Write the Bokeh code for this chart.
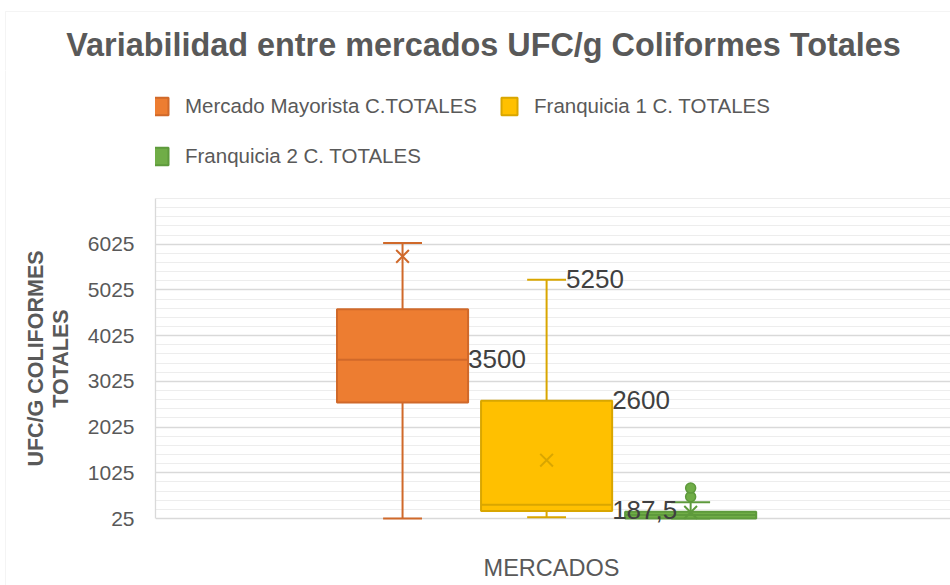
from bokeh.plotting import figure
from bokeh.layouts import row, column
from bokeh.models import (ColumnDataSource, Range1d, FixedTicker, Legend, LegendItem, Label,
                          BoxAnnotation)
from bokeh.embed import file_html
from bokeh.resources import INLINE
from bokeh.core.properties import value
import math

# ---------------- data ----------------
title_text = "Variabilidad entre mercados UFC/g Coliformes Totales"
y_title_lines = ["UFC/G COLIFORMES", "TOTALES"]
x_title = "MERCADOS"
series = ["Mercado Mayorista C.TOTALES", "Franquicia 1 C. TOTALES", "Franquicia 2 C. TOTALES"]
minimum = [25, 55, 25]
q1 = [2560, 187.5, 25]
median = [3500, 325, 100]
q3 = [4600, 2600, 175]
maximum = [6050, 5250, 380]
mean = [5760, 1300, 160]
outlier_series = [2, 2]
outlier_values = [500, 690]
y_ticks = [25, 1025, 2025, 3025, 4025, 5025, 6025]
y_axis_top = 7025
label_series = [0, 1, 1, 1]
label_values = [3500, 5250, 2600, 187.5]
label_anchor = ["box", "cap", "box", "box"]

# ---------------- style / geometry ----------------
fill_colors = ["#ED7D31", "#FFC000", "#70AD47"]
line_colors = ["#D0692A", "#D9A600", "#5E9A3C"]
FONT = "Liberation Sans"
GREY = "#595959"
BORDER = "#d9d9d9"
BOX_W = 0.91
CAP_W = 0.27
TOTAL_W, TOTAL_H = 950, 585
TOP_H = 70                     # title strip
H = TOTAL_H - TOP_H            # plot strip height
LEFT_W = 80                    # y-title strip
MAIN_W = TOTAL_W - LEFT_W
FRAME_LEFT = 155
AXIS_PX = 320                  # pixels between 25 and 7025
BASE_PX = 67                   # pixels from strip bottom to the 25 line
X_PX = 144.05                  # pixels per series slot

px_per_unit = AXIS_PX / (y_axis_top - y_ticks[0])
y_start = y_ticks[0] - BASE_PX / px_per_unit
y_end = y_start + H / px_per_unit
x_start = -1.715
x_end = x_start + (TOTAL_W - FRAME_LEFT) / X_PX

xs = list(range(len(series)))
src = ColumnDataSource(dict(
    x=xs, q1=q1, q3=q3, med=median, lo=minimum, hi=maximum, mean=mean,
    fill=fill_colors, line=line_colors,
    bl=[x - BOX_W / 2 for x in xs], br=[x + BOX_W / 2 for x in xs],
    cl=[x - CAP_W / 2 for x in xs], cr=[x + CAP_W / 2 for x in xs],
))

p = figure(width=MAIN_W, height=H, output_backend="svg", toolbar_location=None,
           x_range=Range1d(x_start, x_end), y_range=Range1d(y_start, y_end),
           x_axis_location=None,
           min_border_left=FRAME_LEFT - LEFT_W, min_border_right=0, min_border_top=0,
           min_border_bottom=0)
p.outline_line_color = None
p.background_fill_color = "white"
p.border_fill_color = "white"

# grid
minor = [v for v in range(y_ticks[0] + 200, y_axis_top + 1, 200) if v not in y_ticks]
p.yaxis.ticker = FixedTicker(ticks=y_ticks, minor_ticks=minor)
p.xgrid.grid_line_color = None
p.ygrid.grid_line_color = "#d9d9d9"
p.ygrid.grid_line_width = 1.3
p.ygrid.minor_grid_line_color = "#ededed"
p.ygrid.minor_grid_line_width = 1

# y axis
ya = p.yaxis[0]
ya.bounds = (y_ticks[0], y_axis_top)
ya.axis_line_color = "#d9d9d9"
ya.axis_line_width = 1.3
ya.major_tick_line_color = None
ya.minor_tick_line_color = None
ya.major_tick_out = 0
ya.major_label_standoff = 17
ya.major_label_text_font = FONT
ya.major_label_text_font_size = "21px"
ya.major_label_text_color = GREY

# whiskers and caps
p.segment(x0="x", y0="q3", x1="x", y1="hi", line_color="line", line_width=2, source=src)
p.segment(x0="x", y0="lo", x1="x", y1="q1", line_color="line", line_width=2, source=src)
p.segment(x0="cl", y0="hi", x1="cr", y1="hi", line_color="line", line_width=2, source=src)
p.segment(x0="cl", y0="lo", x1="cr", y1="lo", line_color="line", line_width=2, source=src)

# boxes
boxes = p.vbar(x="x", width=BOX_W, bottom="q1", top="q3", fill_color="fill",
               line_color="line", line_width=2, source=src)
p.segment(x0="bl", y0="med", x1="br", y1="med", line_color="line", line_width=2, source=src)

# means
p.scatter(x="x", y="mean", marker="x", size=18, line_color="line", line_width=2, source=src)

# outliers
osrc = ColumnDataSource(dict(x=outlier_series, y=outlier_values,
                             fill=[fill_colors[i] for i in outlier_series],
                             line=[line_colors[i] for i in outlier_series]))
p.scatter(x="x", y="y", marker="circle", size=10, fill_color="fill", line_color="line",
          line_width=1.5, source=osrc)

# data labels
lx = [i + (BOX_W / 2 if a == "box" else CAP_W / 2) for i, a in zip(label_series, label_anchor)]
ltxt = [("%g" % v).replace(".", ",") for v in label_values]
lsrc = ColumnDataSource(dict(x=lx, y=label_values, t=ltxt))
p.text(x="x", y="y", text="t", source=lsrc, text_align="left", text_baseline="middle",
       text_font=value(FONT), text_font_size="26px", text_color="#404040", y_offset=-1)

# legend (inside the tall frame, above the gridded area)
items = [LegendItem(label=s, renderers=[boxes], index=i) for i, s in enumerate(series)]
legend = Legend(items=items, orientation="horizontal", ncols=2, location=(-5, 415),
                padding=0, margin=0, spacing=22, label_standoff=15,
                glyph_width=20, glyph_height=22, label_height=28,
                label_text_font=FONT, label_text_font_size="20.5px", label_text_color=GREY,
                border_line_color=None, background_fill_alpha=0)
p.add_layout(legend, "center")

# x-axis title
p.add_layout(Label(x=396, y=18, x_units="screen", y_units="screen", text=x_title,
                   text_align="center", text_baseline="middle",
                   text_font=FONT, text_font_size="23.5px", text_color=GREY))

# ---------------- y axis title strip ----------------
q = figure(width=LEFT_W, height=H, output_backend="svg", toolbar_location=None,
           x_range=Range1d(0, LEFT_W), y_range=Range1d(0, H),
           x_axis_location=None, y_axis_location=None, min_border=0)
q.grid.visible = False
q.outline_line_color = None
q.border_fill_color = "white"
q.background_fill_color = "white"
q.add_layout(BoxAnnotation(left=5, right=10 * LEFT_W, bottom=-H, top=10 * H,
                           fill_alpha=0, line_color=BORDER, line_width=1))
for line_text, cx in zip(y_title_lines, [35, 60]):
    q.add_layout(Label(x=cx, y=227, x_units="screen", y_units="screen", text=line_text,
                       angle=math.pi / 2, text_align="center", text_baseline="middle",
                       text_font=FONT, text_font_size="21.5px", text_font_style="bold",
                       text_color=GREY))

# ---------------- title strip ----------------
t = figure(width=TOTAL_W, height=TOP_H, output_backend="svg", toolbar_location=None,
           x_range=Range1d(0, TOTAL_W), y_range=Range1d(0, TOP_H),
           x_axis_location=None, y_axis_location=None, min_border=0)
t.grid.visible = False
t.outline_line_color = None
t.border_fill_color = "white"
t.background_fill_color = "white"
t.add_layout(BoxAnnotation(left=5, right=10 * TOTAL_W, bottom=-TOP_H, top=TOP_H - 11,
                           fill_alpha=0, line_color=BORDER, line_width=1))
t.add_layout(Label(x=483, y=26, x_units="screen", y_units="screen", text=title_text,
                   text_align="center", text_baseline="middle",
                   text_font=FONT, text_font_size="32.4px", text_font_style="bold",
                   text_color=GREY))

layout = column(t, row(q, p, spacing=0), spacing=0)
open("out.html", "w").write(file_html(layout, INLINE))
